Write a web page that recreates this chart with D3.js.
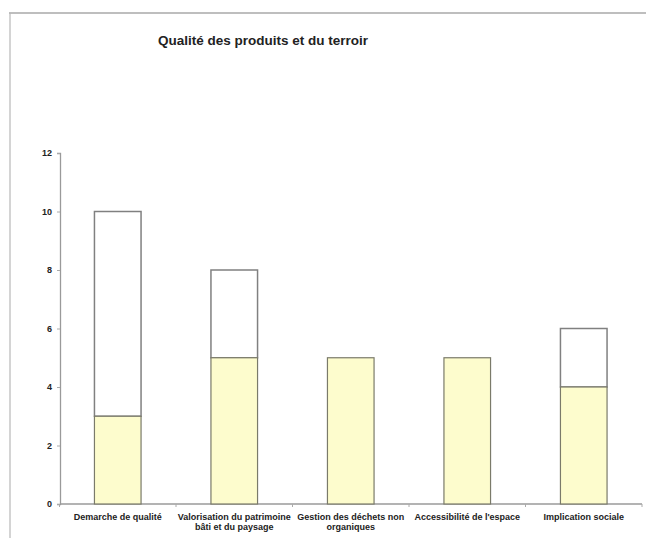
<!DOCTYPE html>
<html><head><meta charset="utf-8">
<script src="https://cdn.jsdelivr.net/npm/d3@7"></script>
<style>body{margin:0;background:#fff}svg{display:block}</style>
</head><body>
<svg id="c" width="646" height="538"></svg>
<script>
const title = "Qualité des produits et du terroir";
const categories = [
  ["Demarche de qualité"],
  ["Valorisation du patrimoine", "bâti et du paysage"],
  ["Gestion des déchets non", "organiques"],
  ["Accessibilité de l'espace"],
  ["Implication sociale"]
];
const baseValues = [3, 5, 5, 5, 4];      // yellow part
const topValues  = [7, 3, 0, 0, 2];      // white part stacked on top
const yTicks = [0, 2, 4, 6, 8, 10, 12];

const svg = d3.select("#c");
const font = "Liberation Sans, Arial, sans-serif";

// frame
svg.append("line").attr("x1", 9).attr("x2", 646).attr("y1", 13).attr("y2", 13)
  .attr("stroke", "#a8a8a8").attr("stroke-width", 1.5);
svg.append("line").attr("x1", 10).attr("x2", 10).attr("y1", 13).attr("y2", 538)
  .attr("stroke", "#b8b8b8").attr("stroke-width", 1.2);

svg.append("text").attr("x", 158).attr("y", 45).text(title)
  .attr("font-family", font).attr("font-weight", "bold").attr("font-size", 13.5).attr("fill", "#222");

const idx = categories.map((d, i) => i);
const x = d3.scaleBand().domain(idx).range([59.5, 642]).paddingInner(0.6).paddingOuter(0.3);
const xb = d3.scaleBand().domain(idx).range([59.5, 642]);
const y = d3.scaleLinear().domain([0, 12]).range([504, 153]);

// y axis
const ya = svg.append("g").attr("transform", "translate(60,0)")
  .call(d3.axisLeft(y).tickValues(yTicks).tickSize(3).tickPadding(5));
ya.select(".domain").attr("stroke", "#9a9a9a").attr("stroke-width", 1.3);
ya.selectAll(".tick line").attr("stroke", "#aaa");
ya.selectAll("text").attr("font-family", font).attr("font-weight", "bold")
  .attr("font-size", 9).attr("fill", "#222");

// x axis
const xa = svg.append("g").attr("transform", "translate(0,504)");
xa.append("line").attr("x1", 60).attr("x2", 642).attr("y1", 0).attr("y2", 0)
  .attr("stroke", "#9a9a9a").attr("stroke-width", 1.3);
xa.selectAll("line.t").data(idx.concat([5])).join("line").attr("class", "t")
  .attr("x1", d => d < 5 ? xb(d) : xb(4) + xb.bandwidth())
  .attr("x2", d => d < 5 ? xb(d) : xb(4) + xb.bandwidth())
  .attr("y1", 0).attr("y2", 3).attr("stroke", "#aaa");

// bars
const g = svg.append("g");
g.selectAll("rect.top").data(idx.filter(i => topValues[i] > 0)).join("rect").attr("class", "top")
  .attr("x", i => x(i)).attr("width", x.bandwidth())
  .attr("y", i => y(baseValues[i] + topValues[i]))
  .attr("height", i => y(baseValues[i]) - y(baseValues[i] + topValues[i]))
  .attr("fill", "#fff").attr("stroke", "#808080").attr("stroke-width", 1.5);
g.selectAll("rect.base").data(idx).join("rect").attr("class", "base")
  .attr("x", i => x(i)).attr("width", x.bandwidth())
  .attr("y", i => y(baseValues[i]))
  .attr("height", i => y(0) - y(baseValues[i]))
  .attr("fill", "#fdfccd").attr("stroke", "#7a7a6a").attr("stroke-width", 1.2);

// category labels
const lab = svg.append("g");
categories.forEach((lines, i) => {
  const t = lab.append("text").attr("x", xb(i) + xb.bandwidth() / 2).attr("y", 519.5)
    .attr("text-anchor", "middle").attr("font-family", font).attr("font-weight", "bold")
    .attr("font-size", 9).attr("fill", "#222");
  lines.forEach((l, k) => t.append("tspan").attr("x", xb(i) + xb.bandwidth() / 2)
    .attr("dy", k === 0 ? 0 : 10.5).text(l));
});
</script>
</body></html>
